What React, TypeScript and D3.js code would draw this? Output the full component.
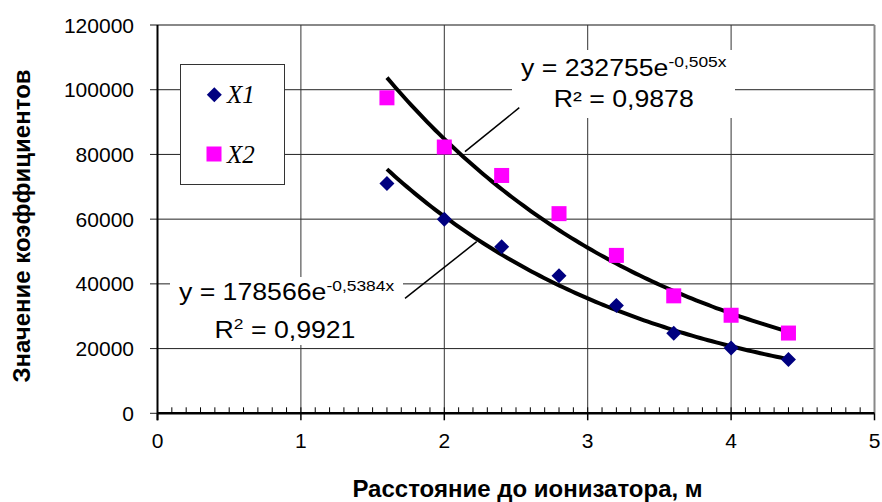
import React from "react";
import * as d3 from "d3";

const xValues = [1.6, 2.0, 2.4, 2.8, 3.2, 3.6, 4.0, 4.4];
const x1Values = [71000, 60000, 51500, 42500, 33300, 24700, 20200, 16600];
const x2Values = [97500, 82300, 73500, 61700, 48800, 36300, 30300, 24800];
const seriesNames = ["X1", "X2"];
const fitA = [178566, 232755];
const fitB = [-0.5384, -0.505];
const xTicks = [0, 1, 2, 3, 4, 5];
const yTicks = [0, 20000, 40000, 60000, 80000, 100000, 120000];

const W = 882;
const H = 502;

export default function App() {
  const x = d3.scaleLinear().domain([0, 5]).range([157.5, 874.5]);
  const y = d3.scaleLinear().domain([0, 120000]).range([413.3, 25]);
  const font = "Arial, 'Liberation Sans', sans-serif";

  const fitLine = (i: number) => {
    const pts = d3.range(0, 101).map((k) => {
      const xv = xValues[0] + (xValues[xValues.length - 1] - xValues[0]) * (k / 100);
      return [xv, fitA[i] * Math.exp(fitB[i] * xv)] as [number, number];
    });
    return d3
      .line<[number, number]>()
      .x((d) => x(d[0]))
      .y((d) => y(d[1]))(pts) as string;
  };

  const minorTicks = d3.range(1, 50).map((k) => k / 10);
  const diamond = (cx: number, cy: number, r: number) =>
    `M${cx},${cy - r}L${cx + r},${cy}L${cx},${cy + r}L${cx - r},${cy}Z`;

  const eq = (cx: number, cy: number, content: React.ReactNode) => (
    <g transform={`translate(${cx},${cy}) scale(1.16,1)`}>
      <text x={0} y={0} textAnchor="middle" fontFamily={font} fontSize={23} fill="#000">
        {content}
      </text>
    </g>
  );

  return (
    <svg width={W} height={H} style={{ position: "absolute", left: 0, top: 0 }}>
      <rect width={W} height={H} fill="#fff" />
      {/* horizontal gridlines */}
      {yTicks.map((t) => (
        <line key={"h" + t} x1={150} x2={x(5)} y1={y(t)} y2={y(t)} stroke={t === 120000 ? "#888" : "#222"} strokeWidth={t === 120000 ? 2 : 1} />
      ))}
      {/* vertical gridlines */}
      {xTicks.slice(1).map((t) => (
        <line key={"v" + t} x1={x(t)} x2={x(t)} y1={y(120000)} y2={y(0)} stroke={t === 5 ? "#888" : "#333"} strokeWidth={t === 5 ? 2 : 1} />
      ))}
      {/* axes */}
      <line x1={x(0)} x2={x(0)} y1={y(120000)} y2={y(0) + 7} stroke="#000" strokeWidth={2} />
      <line x1={x(0)} x2={x(5)} y1={y(0)} y2={y(0)} stroke="#000" strokeWidth={2.5} />
      {xTicks.map((t) => (
        <line key={"xt" + t} x1={x(t)} x2={x(t)} y1={y(0)} y2={y(0) + 7} stroke="#000" strokeWidth={1.5} />
      ))}
      {minorTicks.map((t) => (
        <line key={"mt" + t} x1={x(t)} x2={x(t)} y1={y(0)} y2={y(0) - 6} stroke="#000" strokeWidth={1} />
      ))}
      {/* tick labels */}
      {yTicks.map((t) => (
        <text key={"yl" + t} x={134} y={y(t)} dy="0.36em" textAnchor="end" fontFamily={font} fontSize={21} fill="#000">
          {t}
        </text>
      ))}
      {xTicks.map((t) => (
        <text key={"xl" + t} x={x(t)} y={448} textAnchor="middle" fontFamily={font} fontSize={21} fill="#000">
          {t}
        </text>
      ))}
      {/* axis titles */}
      <text x={527.5} y={497} textAnchor="middle" fontFamily={font} fontSize={24} fontWeight="bold" fill="#000">
        Расстояние до ионизатора, м
      </text>
      <text transform="translate(30,226) rotate(-90)" textAnchor="middle" fontFamily={font} fontSize={24} fontWeight="bold" fill="#000">
        Значение коэффициентов
      </text>
      {/* legend */}
      <rect x={180.5} y={64.5} width={104} height={120} fill="#fff" stroke="#333" strokeWidth={1} />
      <path d={diamond(214.3, 94.7, 7.5)} fill="#000080" />
      <rect x={206.5} y={146.5} width={15} height={15} fill="#ff00ff" />
      <text x={227} y={103.3} fontFamily="'Times New Roman', 'Liberation Serif', serif" fontStyle="italic" fontSize={25} fill="#000">
        {seriesNames[0]}
      </text>
      <text x={227} y={163.3} fontFamily="'Times New Roman', 'Liberation Serif', serif" fontStyle="italic" fontSize={25} fill="#000">
        {seriesNames[1]}
      </text>
      {/* label backgrounds */}
      <rect x={512} y={50} width={223} height={68} fill="#fff" />
      <rect x={170} y={277} width={233} height={68} fill="#fff" />
      {/* leader lines */}
      <line x1={465} y1={151.7} x2={519.3} y2={107.7} stroke="#000" strokeWidth={1.5} />
      <line x1={405} y1={298.3} x2={476.7} y2={241.7} stroke="#000" strokeWidth={1.5} />
      {/* trendlines */}
      {[0, 1].map((i) => (
        <path key={"f" + i} d={fitLine(i)} fill="none" stroke="#000" strokeWidth={4} />
      ))}
      {/* markers */}
      {xValues.map((xv, i) => (
        <rect key={"s" + i} x={x(xv) - 7.5} y={y(x2Values[i]) - 7.5} width={15} height={15} fill="#ff00ff" />
      ))}
      {xValues.map((xv, i) => (
        <path key={"d" + i} d={diamond(x(xv), y(x1Values[i]), 7.5)} fill="#000080" />
      ))}
      {/* equations */}
      {eq(623.7, 76, <>y = 232755e<tspan fontSize={15} dy={-9}>-0,505x</tspan></>)}
      {eq(623.7, 106.7, <>R² = 0,9878</>)}
      {eq(286.5, 300, <>y = 178566e<tspan fontSize={15} dy={-9}>-0,5384x</tspan></>)}
      {eq(285, 338.3, <>R<tspan fontSize={15} dy={-9}>2</tspan><tspan dy={9}> = 0,9921</tspan></>)}
    </svg>
  );
}
